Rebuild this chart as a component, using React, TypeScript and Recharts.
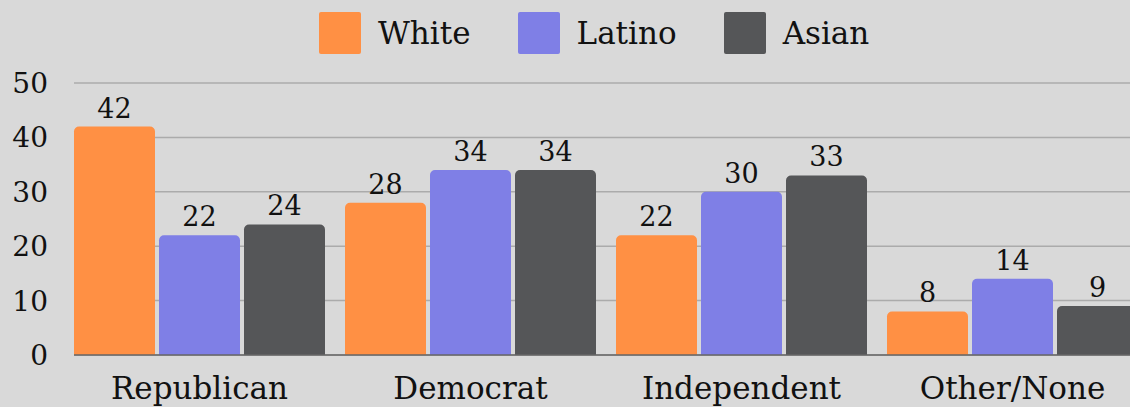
import React from 'react';
import { BarChart, Bar, XAxis, YAxis, CartesianGrid, Legend, LabelList } from 'recharts';

const categories = ['Republican', 'Democrat', 'Independent', 'Other/None'];
const whiteValues = [42, 28, 22, 8];
const latinoValues = [22, 34, 30, 14];
const asianValues = [24, 34, 33, 9];
const yTicks = [0, 10, 20, 30, 40, 50];

const seriesNames = ['White', 'Latino', 'Asian'];
const seriesColors = ['#FF9044', '#7F7FE6', '#555658'];

const data = categories.map((c, i) => ({
  category: c,
  White: whiteValues[i],
  Latino: latinoValues[i],
  Asian: asianValues[i],
}));

const FONT = '"DejaVu Serif", serif';

const LegendContent = () => (
  <div style={{ display: 'flex', alignItems: 'center', paddingLeft: 319, height: 66, fontFamily: FONT }}>
    {seriesNames.map((n, i) => (
      <div key={n} style={{ display: 'flex', alignItems: 'center', marginRight: 47 }}>
        <div style={{ width: 42, height: 42, background: seriesColors[i], borderRadius: 2 }} />
        <span style={{ marginLeft: 17, fontSize: 31, color: '#111' }}>{n}</span>
      </div>
    ))}
  </div>
);

export default function App() {
  return (
    <div style={{ position: 'absolute', left: 0, top: 0, width: 1130, height: 407, overflow: 'hidden', background: '#d9d9d9' }}>
      <BarChart
        width={1148}
        height={407}
        data={data}
        margin={{ top: 17, right: 0, bottom: 0, left: 0 }}
        barCategoryGap={10}
        barGap={4}
      >
        <Legend verticalAlign="top" align="left" content={<LegendContent />} wrapperStyle={{ top: 0, left: 0, height: 66 }} />
        <CartesianGrid vertical={false} stroke="#ababab" strokeWidth={1.5} />
        <XAxis
          dataKey="category"
          height={52}
          padding={{ left: -10, right: 0 }}
          tickLine={false}
          tickSize={0}
          tickMargin={22}
          axisLine={{ stroke: '#666', strokeWidth: 1.5 }}
          tick={{ fontFamily: FONT, fontSize: 31, fill: '#111' }}
          interval={0}
        />
        <YAxis
          width={74}
          domain={[0, 50]}
          ticks={yTicks}
          axisLine={false}
          tickLine={false}
          tickSize={0}
          tickMargin={26}
          tick={{ fontFamily: FONT, fontSize: 28, fill: '#111' }}
        />
        {seriesNames.map((n, i) => (
          <Bar key={n} dataKey={n} fill={seriesColors[i]} radius={[5, 5, 0, 0]} isAnimationActive={false}>
            <LabelList dataKey={n} position="top" offset={9} style={{ fontFamily: FONT, fontSize: 27, fill: '#111' }} />
          </Bar>
        ))}
      </BarChart>
    </div>
  );
}
